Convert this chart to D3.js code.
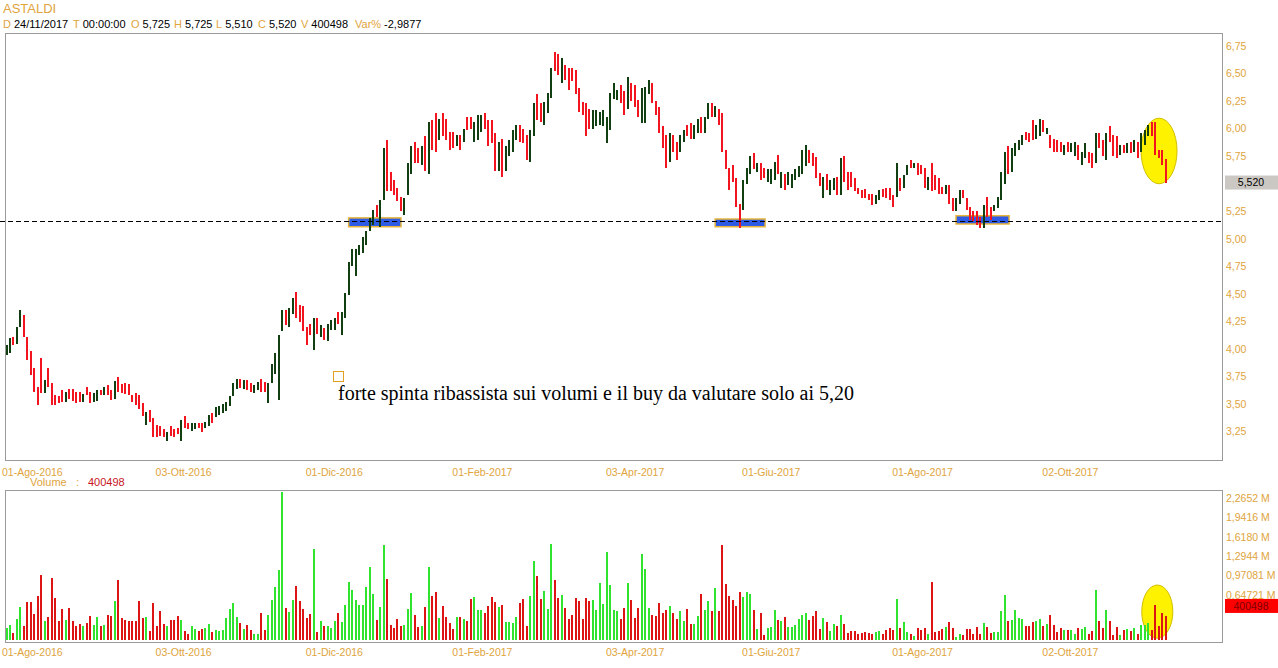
<!DOCTYPE html>
<html>
<head>
<meta charset="utf-8">
<script src="https://cdn.jsdelivr.net/npm/d3@7"></script>
<style>
  html, body { margin: 0; padding: 0; background: #ffffff; }
  svg { display: block; }
</style>
</head>
<body>
<svg id="chart" width="1278" height="668"></svg>
<script>
// ASTALDI daily bars, Aug 2016 - 24 Nov 2017 (one entry per session)
const opens = [
  3.97,3.99,4.10,4.07,4.22,4.29,4.09,3.95,3.80,3.64,
  3.75,3.62,3.80,3.67,3.57,3.56,3.61,3.53,3.63,3.62,
  3.60,3.60,3.53,3.65,3.60,3.53,3.55,3.62,3.59,3.66,
  3.62,3.57,3.73,3.67,3.68,3.67,3.57,3.58,3.56,3.49,
  3.33,3.43,3.35,3.29,3.28,3.26,3.19,3.28,3.26,3.27,
  3.20,3.37,3.32,3.27,3.28,3.32,3.31,3.29,3.31,3.41,
  3.39,3.41,3.43,3.45,3.49,3.58,3.66,3.72,3.65,3.71,
  3.68,3.61,3.64,3.72,3.69,3.53,3.70,3.79,3.58,4.18,
  4.34,4.22,4.34,4.48,4.38,4.36,4.18,4.22,4.03,4.26,
  4.12,4.18,4.09,4.19,4.19,4.33,4.15,4.30,4.51,4.77,
  4.70,4.86,4.89,4.96,5.08,5.15,5.29,5.14,5.37,5.85,
  5.59,5.51,5.45,5.37,5.24,5.42,5.62,5.85,5.80,5.70,
  5.90,5.63,6.05,6.10,5.92,6.11,6.07,5.95,5.95,5.85,
  5.92,5.89,6.10,6.10,5.90,5.92,5.99,6.12,6.06,6.05,
  5.93,5.64,5.88,5.64,5.76,5.81,5.91,6.01,5.99,5.92,
  5.72,5.95,6.28,6.21,6.05,6.16,6.30,6.68,6.66,6.43,
  6.56,6.53,6.53,6.51,6.34,6.23,6.20,6.16,6.02,6.03,
  6.04,6.03,5.89,6.01,6.29,6.27,6.38,6.31,6.20,6.39,
  6.37,6.24,6.08,6.08,6.32,6.39,6.23,6.17,6.00,5.91,
  5.72,5.92,5.86,5.80,5.89,6.02,6.03,5.93,5.97,6.09,
  5.98,6.10,6.22,6.12,6.17,6.10,5.79,5.62,5.65,5.52,
  5.30,5.28,5.52,5.61,5.76,5.62,5.67,5.63,5.53,5.52,
  5.55,5.74,5.48,5.57,5.50,5.47,5.54,5.57,5.61,5.67,
  5.80,5.76,5.72,5.59,5.39,5.57,5.41,5.45,5.54,5.42,
  5.72,5.59,5.59,5.54,5.45,5.43,5.44,5.40,5.40,5.33,
  5.36,5.44,5.45,5.45,5.39,5.40,5.54,5.47,5.59,5.71,
  5.65,5.68,5.66,5.62,5.45,5.66,5.57,5.54,5.46,5.42,
  5.47,5.36,5.26,5.33,5.43,5.36,5.28,5.24,5.24,5.19,
  5.12,5.36,5.28,5.26,5.29,5.37,5.52,5.81,5.63,5.76,
  5.82,5.86,5.96,5.95,6.05,5.92,5.94,6.07,5.96,5.93,
  5.90,5.89,5.87,5.77,5.87,5.80,5.76,5.84,5.68,5.74,
  5.78,5.76,5.70,5.95,5.88,5.74,6.00,5.92,5.91,5.77,
  5.84,5.79,5.87,5.80,5.87,5.80,5.86,5.94,6.05,6.03,
  5.80,5.79,5.725
];
const highs = [
  4.04,4.10,4.11,4.20,4.35,4.31,4.11,3.98,3.83,3.66,
  3.92,3.72,3.83,3.69,3.58,3.57,3.63,3.61,3.64,3.64,
  3.61,3.61,3.59,3.66,3.61,3.60,3.63,3.63,3.66,3.67,
  3.63,3.71,3.75,3.68,3.69,3.68,3.58,3.60,3.58,3.51,
  3.43,3.45,3.37,3.31,3.30,3.27,3.25,3.30,3.27,3.28,
  3.36,3.39,3.33,3.33,3.33,3.33,3.33,3.34,3.40,3.42,
  3.47,3.48,3.50,3.52,3.57,3.69,3.73,3.73,3.72,3.72,
  3.69,3.67,3.70,3.73,3.70,3.69,3.86,3.96,4.13,4.35,
  4.35,4.37,4.46,4.52,4.40,4.39,4.20,4.23,4.28,4.28,
  4.22,4.19,4.23,4.26,4.28,4.34,4.34,4.51,4.79,4.91,
  4.91,4.94,5.02,5.07,5.19,5.26,5.31,5.35,5.82,5.90,
  5.61,5.53,5.46,5.38,5.37,5.69,5.84,5.88,5.82,5.84,
  5.93,6.06,6.08,6.14,6.09,6.14,6.09,5.97,5.97,5.94,
  5.94,6.00,6.11,6.11,6.06,6.12,6.12,6.14,6.08,6.08,
  5.96,5.88,5.91,5.84,5.90,5.99,6.03,6.03,6.00,5.94,
  5.99,6.23,6.31,6.23,6.24,6.32,6.55,6.70,6.68,6.64,
  6.58,6.55,6.55,6.53,6.37,6.24,6.23,6.18,6.17,6.17,
  6.15,6.17,6.11,6.32,6.41,6.35,6.40,6.34,6.47,6.41,
  6.40,6.26,6.37,6.38,6.44,6.41,6.25,6.20,6.02,5.94,
  5.96,5.94,5.88,5.94,5.99,6.03,6.05,6.03,6.09,6.11,
  6.11,6.23,6.23,6.21,6.18,6.14,5.81,5.64,5.67,5.55,
  5.32,5.53,5.64,5.75,5.78,5.69,5.69,5.64,5.63,5.63,
  5.70,5.76,5.61,5.59,5.61,5.59,5.63,5.66,5.81,5.85,
  5.81,5.78,5.74,5.60,5.56,5.59,5.53,5.55,5.56,5.73,
  5.75,5.61,5.61,5.55,5.46,5.44,5.45,5.41,5.41,5.40,
  5.44,5.45,5.46,5.46,5.40,5.69,5.55,5.58,5.67,5.72,
  5.69,5.69,5.67,5.64,5.56,5.69,5.58,5.55,5.47,5.49,
  5.49,5.37,5.37,5.44,5.44,5.37,5.29,5.25,5.25,5.20,
  5.31,5.38,5.29,5.31,5.38,5.61,5.79,5.84,5.82,5.87,
  5.90,5.94,5.97,5.96,6.08,6.03,6.09,6.08,6.01,5.94,
  5.91,5.90,5.88,5.85,5.88,5.87,5.88,5.85,5.79,5.87,
  5.79,5.78,5.96,5.96,5.90,5.96,6.02,5.94,5.93,5.85,
  5.85,5.87,5.88,5.90,5.88,5.96,5.99,6.03,6.06,6.06,
  5.81,5.81,5.725
];
const lows = [
  3.95,3.96,4.04,4.05,4.20,4.11,3.90,3.76,3.61,3.49,
  3.60,3.60,3.66,3.49,3.49,3.51,3.52,3.52,3.55,3.53,
  3.51,3.52,3.52,3.58,3.51,3.52,3.53,3.58,3.58,3.58,
  3.54,3.55,3.61,3.60,3.59,3.58,3.52,3.49,3.46,3.39,
  3.31,3.34,3.20,3.20,3.21,3.20,3.17,3.21,3.20,3.23,
  3.17,3.28,3.27,3.26,3.27,3.28,3.25,3.28,3.30,3.33,
  3.38,3.40,3.42,3.44,3.48,3.57,3.64,3.65,3.64,3.63,
  3.61,3.60,3.63,3.61,3.61,3.51,3.69,3.77,3.54,4.16,
  4.22,4.20,4.32,4.28,4.25,4.16,4.04,4.13,3.99,4.14,
  4.11,4.08,4.07,4.17,4.17,4.23,4.13,4.28,4.49,4.75,
  4.66,4.85,4.87,4.94,5.07,5.13,5.20,5.11,5.35,5.43,
  5.43,5.40,5.34,5.25,5.22,5.40,5.59,5.69,5.69,5.67,
  5.62,5.59,5.81,5.79,5.90,5.93,5.90,5.81,5.82,5.84,
  5.81,5.88,5.99,6.00,5.88,5.90,5.97,6.00,5.84,5.87,
  5.62,5.62,5.56,5.62,5.75,5.79,5.90,5.88,5.87,5.72,
  5.70,5.93,6.08,6.06,6.03,6.14,6.28,6.52,6.49,6.41,
  6.44,6.35,6.43,6.31,6.15,6.12,5.93,6.00,6.00,6.02,
  6.03,6.02,5.87,5.99,6.27,6.26,6.23,6.12,6.18,6.25,
  6.20,6.11,6.05,6.05,6.31,6.23,6.12,5.96,5.82,5.64,
  5.70,5.79,5.72,5.79,5.88,5.93,5.91,5.91,5.96,5.96,
  5.96,6.09,6.11,6.11,6.03,5.79,5.63,5.44,5.52,5.29,
  5.10,5.26,5.50,5.59,5.63,5.61,5.53,5.55,5.52,5.50,
  5.53,5.59,5.46,5.44,5.49,5.46,5.53,5.56,5.59,5.66,
  5.69,5.66,5.55,5.48,5.37,5.44,5.40,5.44,5.40,5.40,
  5.52,5.44,5.47,5.43,5.41,5.37,5.37,5.35,5.31,5.32,
  5.35,5.38,5.37,5.35,5.29,5.38,5.43,5.46,5.58,5.64,
  5.64,5.58,5.59,5.46,5.44,5.43,5.44,5.41,5.41,5.41,
  5.32,5.25,5.25,5.32,5.37,5.26,5.17,5.16,5.13,5.10,
  5.10,5.20,5.17,5.25,5.28,5.35,5.50,5.59,5.61,5.75,
  5.81,5.85,5.90,5.88,5.90,5.91,5.93,5.97,5.95,5.82,
  5.79,5.79,5.79,5.76,5.79,5.79,5.75,5.72,5.67,5.73,
  5.69,5.64,5.69,5.82,5.75,5.72,5.88,5.75,5.73,5.76,
  5.78,5.78,5.78,5.79,5.73,5.79,5.85,5.93,5.93,5.76,
  5.73,5.67,5.51
];
const closes = [
  4.02,4.08,4.05,4.18,4.31,4.13,3.93,3.79,3.64,3.52,
  3.62,3.70,3.68,3.52,3.51,3.52,3.54,3.60,3.56,3.55,
  3.53,3.54,3.58,3.59,3.53,3.59,3.62,3.59,3.65,3.60,
  3.56,3.69,3.63,3.61,3.61,3.60,3.53,3.51,3.48,3.41,
  3.41,3.36,3.22,3.22,3.23,3.21,3.24,3.23,3.21,3.24,
  3.34,3.30,3.28,3.32,3.32,3.29,3.27,3.33,3.39,3.35,
  3.46,3.47,3.49,3.51,3.56,3.68,3.72,3.67,3.71,3.65,
  3.63,3.66,3.69,3.63,3.62,3.67,3.84,3.94,4.11,4.33,
  4.24,4.35,4.44,4.30,4.27,4.18,4.06,4.14,4.26,4.16,
  4.21,4.10,4.22,4.25,4.27,4.25,4.32,4.49,4.77,4.89,
  4.88,4.93,5.00,5.05,5.17,5.24,5.22,5.33,5.78,5.46,
  5.45,5.42,5.35,5.27,5.35,5.66,5.81,5.71,5.71,5.82,
  5.65,6.03,5.84,5.82,6.07,5.95,5.92,5.83,5.84,5.93,
  5.83,5.99,6.00,6.01,6.05,6.11,6.11,6.02,5.86,5.89,
  5.65,5.86,5.59,5.82,5.88,5.97,6.02,5.90,5.89,5.74,
  5.97,6.21,6.10,6.08,6.22,6.30,6.53,6.54,6.51,6.62,
  6.46,6.37,6.45,6.33,6.17,6.14,5.96,6.02,6.15,6.15,
  6.14,6.15,6.09,6.30,6.39,6.34,6.25,6.14,6.45,6.27,
  6.22,6.13,6.35,6.36,6.42,6.25,6.14,5.98,5.84,5.67,
  5.94,5.81,5.74,5.93,5.98,5.94,5.93,6.02,6.08,5.98,
  6.10,6.22,6.12,6.20,6.05,5.82,5.65,5.46,5.54,5.32,
  5.15,5.51,5.62,5.73,5.65,5.68,5.55,5.56,5.62,5.61,
  5.68,5.61,5.60,5.46,5.60,5.58,5.62,5.65,5.79,5.83,
  5.70,5.67,5.57,5.50,5.54,5.46,5.52,5.54,5.42,5.70,
  5.54,5.46,5.49,5.44,5.42,5.38,5.38,5.36,5.32,5.39,
  5.43,5.39,5.38,5.36,5.30,5.66,5.44,5.57,5.66,5.65,
  5.68,5.59,5.60,5.48,5.55,5.45,5.45,5.42,5.42,5.48,
  5.34,5.26,5.36,5.43,5.38,5.27,5.18,5.17,5.14,5.11,
  5.29,5.22,5.18,5.30,5.37,5.59,5.77,5.61,5.80,5.86,
  5.89,5.93,5.91,5.89,5.92,6.02,6.07,5.98,6.00,5.83,
  5.80,5.80,5.80,5.84,5.80,5.86,5.87,5.73,5.78,5.86,
  5.70,5.65,5.94,5.83,5.76,5.94,5.89,5.77,5.75,5.84,
  5.79,5.86,5.79,5.89,5.74,5.94,5.97,6.02,5.94,5.78,
  5.75,5.69,5.52
];
// volume, thousands of shares
const volumesK = [
  205,250,122,349,549,233,638,638,438,738,
  1082,322,383,1032,699,322,516,333,532,322,
  233,272,233,288,399,250,388,233,250,416,
  399,649,998,366,333,316,316,316,649,366,
  383,150,616,233,483,266,233,333,333,399,
  333,150,100,233,183,150,183,200,266,133,
  166,155,166,366,516,621,383,288,183,250,
  166,100,100,449,166,416,666,882,1165,2468,
  532,466,666,899,649,516,366,433,1514,133,
  316,233,233,200,316,449,300,582,965,832,
  666,582,582,882,1215,765,333,549,1581,1015,
  250,200,349,233,250,516,788,416,216,233,
  549,1220,732,799,366,566,383,283,183,383,
  383,349,316,682,716,499,499,449,566,716,
  632,549,582,300,300,283,383,616,682,233,
  732,1315,1065,682,815,516,1597,998,699,749,
  532,349,416,699,649,349,699,649,666,499,
  948,599,1464,915,499,483,349,532,948,666,
  366,532,1431,1181,532,416,399,616,449,499,
  566,449,349,483,316,516,266,266,399,765,
  499,649,483,865,483,1581,932,732,666,566,
  799,716,799,765,499,183,449,83,200,216,
  499,333,316,383,216,216,250,349,416,449,
  333,399,483,183,360,300,150,266,233,416,
  266,116,150,150,100,116,133,116,100,133,
  150,100,166,200,166,682,200,300,133,100,
  67,200,166,200,100,965,133,150,183,216,
  300,200,50,100,83,183,183,100,216,100,
  283,216,116,133,133,483,749,316,333,499,
  366,349,233,233,300,316,349,233,266,416,
  250,133,200,166,166,166,100,200,183,216,
  100,150,832,316,200,499,316,83,216,83,
  166,183,150,200,100,250,250,283,166,582,
  233,449,400.498
];

// Axis labels
const priceTicks = [3.25, 3.50, 3.75, 4.00, 4.25, 4.50, 4.75, 5.00, 5.25, 5.50, 5.75, 6.00, 6.25, 6.50, 6.75];
const volumeTickLabels = ["0,64721 M", "0,97081 M", "1,2944 M", "1,6180 M", "1,9416 M", "2,2652 M"];
const volumeTickValuesK = [647.21, 970.81, 1294.4, 1618.0, 1941.6, 2265.2];
const dateLabels = ["01-Ago-2016", "03-Ott-2016", "01-Dic-2016", "01-Feb-2017", "03-Apr-2017", "01-Giu-2017", "01-Ago-2017", "02-Ott-2017"];
const dateBars = [0, 44, 87, 129, 173, 212, 255, 298];

// Annotations
const title = "ASTALDI";
const sessionDate = "24/11/2017";
const sessionTime = "00:00:00";
const supportLevel = 5.165;
const supportZones = [
  { from: 98.0, to: 113.0, top: 5.19, bottom: 5.11 },
  { from: 203.0, to: 217.3, top: 5.18, bottom: 5.11 },
  { from: 272.0, to: 287.2, top: 5.21, bottom: 5.135 }
];
const priceHighlight = { from: 325.0, to: 335.3, top: 6.095, bottom: 5.50 };
const volumeHighlightK = { from: 325.2, to: 334.1, top: 915, bottom: 30 };
const noteText = "forte spinta ribassista sui volumi e il buy da valutare solo ai 5,20";

// ---------------------------------------------------------------------------
const n = closes.length;
[opens, highs, lows, volumesK].forEach(a => {
  if (a.length !== n) throw new Error("series length mismatch: " + a.length + " vs " + n);
});

const SANS = "'Liberation Sans', Arial, Helvetica, sans-serif";
const ORANGE = "#e0a43c";
const UP = "#123f12", DOWN = "#f2141e";
const VUP = "#2fe32f", VDOWN = "#dc1414";
const comma = s => s.replace(".", ",").replace("\u2212", "-");

const svg = d3.select("#chart");

const x = d3.scaleLinear().domain([0, n - 1]).range([6.5, 1165.5]);
const y = d3.scaleLinear().domain([3.25, 6.75]).range([431.7, 46]);
const yv = d3.scaleLinear().domain([0, 2480]).range([640, 491]);

const panel = { left: 5.5, right: 1222.5 };
const pricePanel = { top: 33.5, bottom: 460.5 };
const volPanel = { top: 490.5, bottom: 642.5 };

// ---- header -------------------------------------------------------------
svg.append("text").attr("x", 3).attr("y", 13)
  .attr("font-family", SANS).attr("font-size", 13).attr("fill", ORANGE).text(title);

const last = n - 1;
const varPct = (closes[last] - closes[last - 1]) / closes[last - 1] * 100;
const headerItems = [
  ["D", sessionDate, 3],
  ["T", sessionTime, 73],
  ["O", comma(d3.format(".3f")(opens[last])), 131],
  ["H", comma(d3.format(".3f")(highs[last])), 174],
  ["L", comma(d3.format(".3f")(lows[last])), 216],
  ["C", comma(d3.format(".3f")(closes[last])), 258],
  ["V", String(Math.round(volumesK[last] * 1000)), 301],
  ["Var%", comma(d3.format(".4f")(varPct)), 355]
];
const hdr = svg.append("g").attr("font-family", SANS).attr("font-size", 11);
headerItems.forEach(([k, v, kx]) => {
  const lab = hdr.append("text").attr("x", kx).attr("y", 27.5).attr("fill", ORANGE).text(k);
  const w = lab.node().getComputedTextLength();
  hdr.append("text").attr("x", kx + w + 3).attr("y", 27.5).attr("fill", "#000").text(v);
});

// ---- panel frames -------------------------------------------------------
[pricePanel, volPanel].forEach(p => {
  svg.append("rect")
    .attr("x", panel.left).attr("y", p.top)
    .attr("width", panel.right - panel.left).attr("height", p.bottom - p.top)
    .attr("fill", "none").attr("stroke", "#9a9a9a").attr("stroke-width", 1);
});

// ---- price axis (right); the label under the last-price tag stays hidden --
const last0 = n - 1;
const tagY = y(closes[last0]);
const pa = svg.append("g").attr("font-family", SANS).attr("font-size", 10.5).attr("fill", ORANGE);
priceTicks.filter(t => Math.abs(y(t) - tagY) > 11).forEach(t => {
  pa.append("text").attr("x", 1226).attr("y", y(t)).attr("dy", "0.36em")
    .text(comma(d3.format(".2f")(t)));
});

// ---- date labels under both panels --------------------------------------
[476, 656].forEach(base => {
  const g = svg.append("g").attr("font-family", SANS).attr("font-size", 10.5).attr("fill", ORANGE);
  dateLabels.forEach((lab, k) => {
    g.append("text").attr("x", x(dateBars[k]) - 4.5).attr("y", base).text(lab);
  });
});

// ---- highlight ellipses (behind the bars) -------------------------------
function ellipse(cx0, cx1, cy0, cy1) {
  svg.append("ellipse")
    .attr("cx", (cx0 + cx1) / 2).attr("cy", (cy0 + cy1) / 2)
    .attr("rx", Math.abs(cx1 - cx0) / 2).attr("ry", Math.abs(cy1 - cy0) / 2)
    .attr("fill", "#fff200").attr("stroke", "#d2be00").attr("stroke-width", 1);
}
ellipse(x(priceHighlight.from), x(priceHighlight.to), y(priceHighlight.top), y(priceHighlight.bottom));
ellipse(x(volumeHighlightK.from), x(volumeHighlightK.to), yv(volumeHighlightK.top), yv(volumeHighlightK.bottom));

// ---- support zones ------------------------------------------------------
svg.append("g").selectAll("rect").data(supportZones).join("rect")
  .attr("x", d => x(d.from)).attr("y", d => y(d.top))
  .attr("width", d => x(d.to) - x(d.from)).attr("height", d => y(d.bottom) - y(d.top))
  .attr("fill", "#2d5be6").attr("stroke", "#e6b43a").attr("stroke-width", 1.5);

// ---- price bars ---------------------------------------------------------
const bars = d3.range(n);
svg.append("g").attr("shape-rendering", "crispEdges").selectAll("rect").data(bars).join("rect")
  .attr("x", i => Math.round(x(i)) - 1)
  .attr("y", i => Math.round(y(highs[i])))
  .attr("width", 2)
  .attr("height", i => Math.max(1, Math.round(y(lows[i])) - Math.round(y(highs[i]))))
  .attr("fill", i => closes[i] >= opens[i] ? UP : DOWN);

// ---- support line -------------------------------------------------------
svg.append("line")
  .attr("x1", 0).attr("x2", panel.right)
  .attr("y1", Math.round(y(supportLevel)) + 0.5).attr("y2", Math.round(y(supportLevel)) + 0.5)
  .attr("stroke", "#000").attr("stroke-width", 1).attr("stroke-dasharray", "5,3");

// ---- last price tag -----------------------------------------------------
svg.append("rect").attr("x", 1225).attr("y", tagY - 6).attr("width", 53).attr("height", 14)
  .attr("fill", "#cbc7c2");
svg.append("text").attr("x", 1251).attr("y", tagY + 1).attr("dy", "0.36em")
  .attr("text-anchor", "middle").attr("font-family", SANS).attr("font-size", 10.5)
  .attr("fill", "#000").text(comma(d3.format(".3f")(closes[last0])));

// ---- note ---------------------------------------------------------------
svg.append("rect").attr("x", 333.5).attr("y", 371.5).attr("width", 10).attr("height", 10)
  .attr("fill", "#fff").attr("stroke", "#e0a020").attr("stroke-width", 1);
svg.append("text").attr("x", 338).attr("y", 399.5)
  .attr("font-family", "'Liberation Serif', 'Times New Roman', serif").attr("font-size", 20)
  .attr("fill", "#000").text(noteText);

// ---- volume -------------------------------------------------------------
const vh = svg.append("g").attr("font-family", SANS).attr("font-size", 11);
vh.append("text").attr("x", 30).attr("y", 486).attr("fill", ORANGE).text("Volume");
vh.append("text").attr("x", 76).attr("y", 486).attr("fill", ORANGE).text(":");
vh.append("text").attr("x", 88).attr("y", 486).attr("fill", "#c8141e")
  .text(String(Math.round(volumesK[last] * 1000)));

svg.append("g").attr("shape-rendering", "crispEdges").selectAll("rect").data(bars).join("rect")
  .attr("x", i => Math.round(x(i)) - 1)
  .attr("y", i => Math.round(yv(volumesK[i])))
  .attr("width", 2)
  .attr("height", i => Math.max(1, yv(0) - Math.round(yv(volumesK[i]))))
  .attr("fill", i => closes[i] >= opens[i] ? VUP : VDOWN);

const va = svg.append("g").attr("font-family", SANS).attr("font-size", 10.5).attr("fill", ORANGE);
volumeTickLabels.forEach((lab, k) => {
  va.append("text").attr("x", 1226).attr("y", yv(volumeTickValuesK[k]) - 6).attr("dy", "0.36em").text(lab);
});

const vy = yv(volumesK[last]);
svg.append("rect").attr("x", 1225).attr("y", vy - 17).attr("width", 53).attr("height", 14)
  .attr("fill", "#ff0000");
svg.append("text").attr("x", 1251).attr("y", vy - 10).attr("dy", "0.36em")
  .attr("text-anchor", "middle").attr("font-family", SANS).attr("font-size", 10.5)
  .attr("fill", "#7a0000").text(String(Math.round(volumesK[last] * 1000)));
</script>
</body>
</html>
